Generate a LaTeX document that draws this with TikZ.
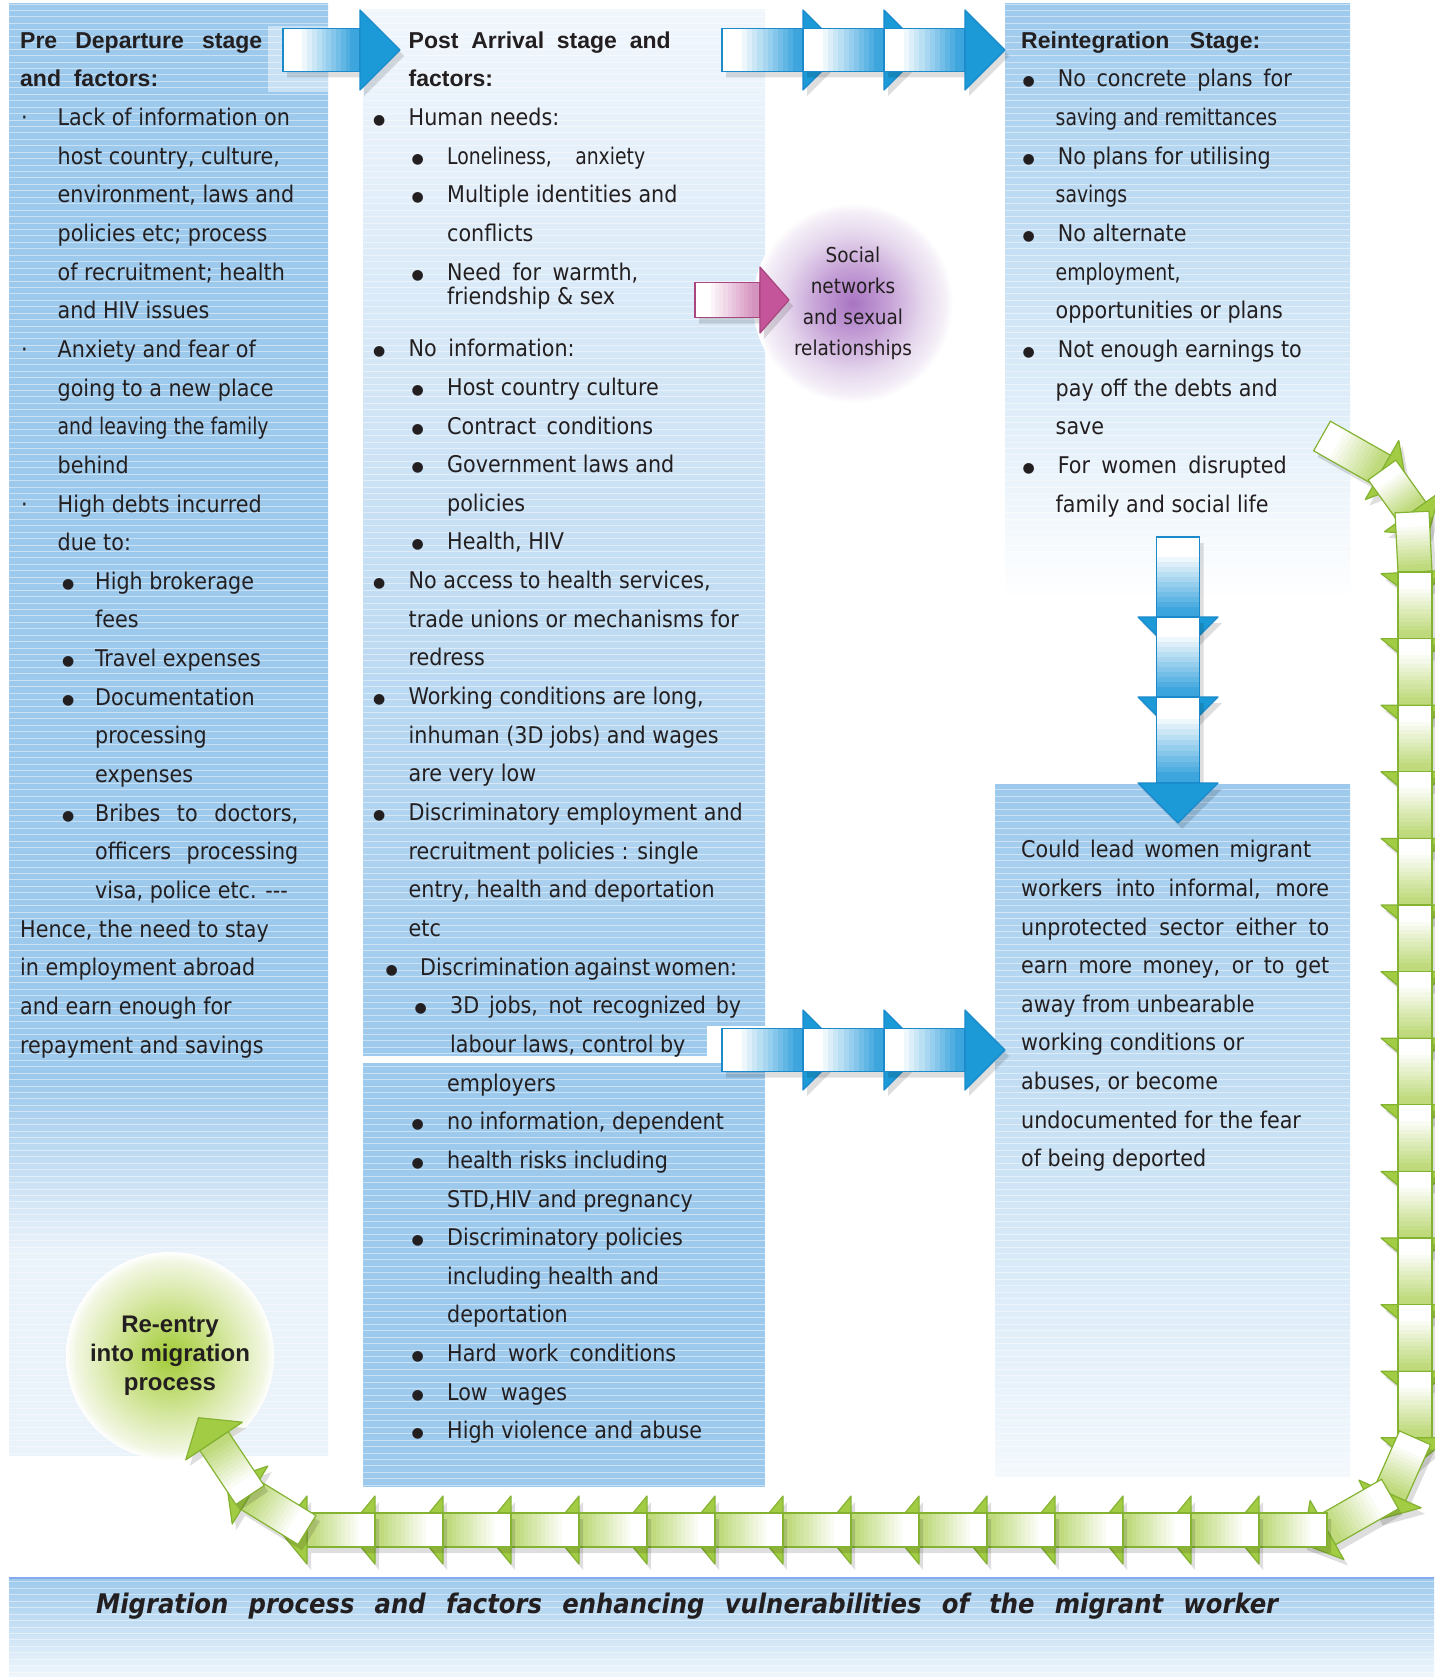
\documentclass[tikz,border=0pt]{standalone}
\usepackage{fontspec}
\setmainfont{DejaVu Sans Condensed}
\newfontfamily\headfont{Liberation Sans}
\newfontfamily\narrowfont{DejaVu Sans Condensed}[FakeStretch=0.91]
\newfontfamily\symfont{DejaVu Sans}

\definecolor{colblue}{HTML}{9DC9EC}
\definecolor{colpale}{HTML}{EAF2FA}
\definecolor{colmidtop}{HTML}{F1F6FC}
\definecolor{textc}{HTML}{231F20}
\definecolor{bluebody}{HTML}{3DA5DD}
\definecolor{bluehead}{HTML}{1B9AD7}
\definecolor{blueedge}{HTML}{1A8ACB}
\definecolor{greenbody}{HTML}{BFDA7C}
\definecolor{greenhead}{HTML}{A2CC44}
\definecolor{greenedge}{HTML}{84B332}
\definecolor{pinkbody}{HTML}{D592BE}
\definecolor{pinkhead}{HTML}{C4559B}
\definecolor{pinkedge}{HTML}{A9457F}
\definecolor{purpc}{HTML}{A874C2}
\definecolor{purpm}{HTML}{C6A2D7}
\definecolor{purpl}{HTML}{E4D5EC}
\definecolor{purpe}{HTML}{F5F0F8}
\definecolor{grnc}{HTML}{A2CB37}
\definecolor{grnm}{HTML}{C2DD78}
\definecolor{grnl}{HTML}{DFECB6}
\definecolor{grne}{HTML}{F2F7E4}

\pgfdeclareverticalshading{leftfade}{100bp}{color(0bp)=(colpale); color(32bp)=(colpale); color(38bp)=(colblue); color(100bp)=(colblue)}
\pgfdeclareradialshading{socialglow}{\pgfpoint{0bp}{0bp}}{color(0bp)=(purpc); color(9bp)=(purpm); color(17bp)=(purpl); color(23bp)=(purpe); color(25bp)=(white); color(50bp)=(white)}
\pgfdeclareradialshading{reentryglow}{\pgfpoint{0bp}{0bp}}{color(0bp)=(grnc); color(9bp)=(grnm); color(17bp)=(grnl); color(23bp)=(grne); color(25bp)=(white); color(50bp)=(white)}

\tikzset{
  coltext/.style={align=left, inner sep=0pt, text=textc, font=\fontsize{23}{38.65}\selectfont},
  stripe/.style={white, opacity=.45, line width=.8pt},
  seg shadow/.style={black, opacity=.13},
  seg blue/.code={\def\bw{21.5}\def\hw{40}\def\hl{40}\def\segbody{bluebody}\def\seghead{bluehead}\def\segedge{blueedge}},
  seg green/.code={\def\bw{17}\def\hw{34}\def\hl{28}\def\segbody{greenbody}\def\seghead{greenhead}\def\segedge{greenedge}},
  seg pink/.code={\def\bw{17.5}\def\hw{33}\def\hl{29}\def\segbody{pinkbody}\def\seghead{pinkhead}\def\segedge{pinkedge}}
}

\newcommand\jl[2]{\makebox[#1pt][s]{#2}}
\newcommand\bdot{\raisebox{1pt}{\symfont\fontsize{14}{14}\selectfont ●}}
\newcommand\bu[2]{\hspace*{#1pt}\makebox[#2pt][l]{\bdot}}
\newcommand\ind[1]{\hspace*{#1pt}}
\newcommand\dotbu{\hspace*{1pt}\makebox[36.5pt][l]{\textperiodcentered}}

\makeatletter
\newcommand\chainseg[2]{%
  \pgfpointdiff{\pgfpointanchor{#1}{center}}{\pgfpointanchor{#2}{center}}%
  \edef\segdx{\strip@pt\pgf@x}%
  \edef\segdy{\strip@pt\pgf@y}%
  \pgfmathsetmacro\segang{atan2(\segdy,\segdx)}%
  \pgfmathsetmacro\seglen{veclen(\segdx,\segdy)}%
  \begin{scope}[shift={(#1)},xshift=4pt,yshift=-6pt,rotate=\segang]
    \fill[seg shadow] (0,-\bw) -- (\seglen,-\bw) -- (\seglen,-\hw) -- (\seglen+\hl,0)
      -- (\seglen,\hw) -- (\seglen,\bw) -- (0,\bw) -- cycle;
  \end{scope}
  \begin{scope}[shift={(#1)},rotate=\segang]
    \foreach \k in {0,...,15}{%
      \pgfmathsetmacro\ua{\seglen*\k/16}%
      \pgfmathsetmacro\ub{\seglen*(\k+1)/16+0.7}%
      \pgfmathtruncatemacro\pc{max(0,min(100,(\k-3)*9))}%
      \fill[\segbody!\pc!white] (\ua,-\bw) rectangle (\ub,\bw);
    }
    \draw[\segedge,line width=1.2pt] (0,-\bw) rectangle (\seglen,\bw);
    \filldraw[fill=\seghead,draw=\segedge,line width=1.2pt,line join=round]
      (\seglen,-\hw) -- (\seglen+\hl,0) -- (\seglen,\hw) -- cycle;
  \end{scope}}
\makeatother

\begin{document}
\begin{tikzpicture}[x=1pt,y=-1pt]
  \useasboundingbox (0,0) rectangle (1434,1677);
  \fill[white] (0,0) rectangle (1434,1677);

  % columns and caption band
  \shade[shading=leftfade] (9,4) rectangle (328,1455);
  \shade[top color=colmidtop, bottom color=colblue] (363,10) rectangle (765,1055);
  \fill[colblue] (363,1063) rectangle (765,1487);
  \shade[top color=colblue, middle color=colblue!55!white, bottom color=white] (1005,4) rectangle (1350,600);
  \shade[top color=colblue, bottom color=colblue!12!white] (995,784) rectangle (1350,1476);
  \shade[top color=colblue, bottom color=colblue!15!white] (9,1577) rectangle (1434,1677);

  \begin{scope}
    \clip (9,4) rectangle (328,1455) (363,10) rectangle (765,1055) (363,1063) rectangle (765,1487)
          (1005,4) rectangle (1350,600) (995,784) rectangle (1350,1476) (9,1577) rectangle (1434,1677);
    \foreach \y in {4,10.44,...,1677}
      \draw[stripe] (0,\y) -- (1434,\y);
  \end{scope}
  \draw[colblue!85!blue, line width=2pt] (9,1578) -- (1434,1578);

  \fill[white, opacity=.45] (268,26) rectangle (328,92);
  \fill[white] (707,1026) rectangle (770,1063);

  % text of the stages
  \node[coltext, anchor=north west] (predep) at (20,28) {%
    {\headfont\bfseries\rule{0pt}{20pt}\jl{242}{Pre Departure stage}}\\
    {\headfont\bfseries\jl{138}{and factors:}}\\
    \dotbu Lack of information on\\
    \ind{37.5}host country, culture,\\
    \ind{37.5}environment, laws and\\
    \ind{37.5}policies etc; process\\
    \ind{37.5}of recruitment; health\\
    \ind{37.5}and HIV issues\\
    \dotbu Anxiety and fear of\\
    \ind{37.5}going to a new place\\
    \ind{37.5}{\narrowfont and leaving the family}\\
    \ind{37.5}behind\\
    \dotbu High debts incurred\\
    \ind{37.5}due to:\\
    \bu{42}{33}High brokerage\\
    \ind{75}fees\\
    \bu{42}{33}Travel expenses\\
    \bu{42}{33}Documentation\\
    \ind{75}processing\\
    \ind{75}expenses\\
    \bu{42}{33}\jl{203}{Bribes to doctors,}\\
    \ind{75}\jl{203}{officers processing}\\
    \ind{75}visa, police etc. {-}{-}{-}\\
    Hence, the need to stay\\
    in employment abroad\\
    and earn enough for\\
    repayment and savings};

  \node[coltext, anchor=north west] (postarr) at (372,28) {%
    {\headfont\bfseries\rule{0pt}{20pt}\ind{36.5}\jl{262}{Post Arrival stage and}}\\
    {\headfont\bfseries\ind{36.5}factors:}\\
    \bu{1}{35.5}Human needs:\\
    \bu{39.5}{35.5}{\narrowfont\jl{198}{Loneliness, anxiety}}\\
    \bu{39.5}{35.5}Multiple identities and\\
    \ind{75}conflicts\\
    \bu{39.5}{35.5}\jl{191}{Need for warmth,}\\[-14.65pt]
    \ind{75}friendship \& sex\\[13.95pt]
    \bu{1}{35.5}\jl{166}{No information:}\\
    \bu{39.5}{35.5}Host country culture\\
    \bu{39.5}{35.5}\jl{206}{Contract conditions}\\
    \bu{39.5}{35.5}Government laws and\\
    \ind{75}policies\\
    \bu{39.5}{35.5}Health, HIV\\
    \bu{1}{35.5}No access to health services,\\
    \ind{36.5}trade unions or mechanisms for\\
    \ind{36.5}redress\\
    \bu{1}{35.5}Working conditions are long,\\
    \ind{36.5}inhuman (3D jobs) and wages\\
    \ind{36.5}are very low\\
    \bu{1}{35.5}Discriminatory employment and\\
    \ind{36.5}recruitment policies : single\\
    \ind{36.5}entry, health and deportation\\
    \ind{36.5}etc\\
    \bu{13.5}{34.5}\jl{314}{Discrimination against women:}\\
    \bu{42.5}{35.5}\jl{291}{3D jobs, not recognized by}\\
    \ind{78}labour laws, control by\\
    \ind{75}employers\\
    \bu{39.5}{35.5}no information, dependent\\
    \bu{39.5}{35.5}health risks including\\
    \ind{75}STD,HIV and pregnancy\\
    \bu{39.5}{35.5}Discriminatory policies\\
    \ind{75}including health and\\
    \ind{75}deportation\\
    \bu{39.5}{35.5}\jl{229}{Hard work conditions}\\
    \bu{39.5}{35.5}\jl{120}{Low wages}\\
    \bu{39.5}{35.5}High violence and abuse};

  \node[coltext, anchor=north west] (reint) at (1021,28) {%
    {\headfont\bfseries\rule{0pt}{20pt}\jl{239}{Reintegration Stage:}}\\
    \bu{1.5}{35.1}\jl{234}{No concrete plans for}\\
    \ind{34.5}{\narrowfont saving and remittances}\\
    \bu{1.5}{35.1}No plans for utilising\\
    \ind{34.5}{\narrowfont savings}\\
    \bu{1.5}{35.1}No alternate\\
    \ind{34.5}{\narrowfont employment,}\\
    \ind{34.5}opportunities or plans\\
    \bu{1.5}{35.1}Not enough earnings to\\
    \ind{34.5}pay off the debts and\\
    \ind{34.5}save\\
    \bu{1.5}{35.1}\jl{229}{For women disrupted}\\
    \ind{34.5}family and social life};

  \node[coltext, anchor=north west] (outcome) at (1021,837.5) {%
    \rule{0pt}{20pt}\jl{290}{Could lead women migrant}\\
    \jl{308}{workers into informal, more}\\
    \jl{308}{unprotected sector either to}\\
    \jl{308}{earn more money, or to get}\\
    away from unbearable\\
    working conditions or\\
    abuses, or become\\
    undocumented for the fear\\
    of being deported};

  \node[anchor=base west, inner sep=0pt, text=textc,
        font=\bfseries\itshape\fontsize{27}{30}\selectfont] (caption) at (96,1613)
    {\jl{1182}{Migration process and factors enhancing vulnerabilities of the migrant worker}};

  % glowing circles
  \node[circle, minimum size=200pt, inner sep=0pt, shade, shading=socialglow, align=center,
        text=textc, font=\fontsize{20.5}{31}\selectfont] (social) at (853,303)
    {Social\\networks\\and sexual\\relationships};
  \node[circle, minimum size=208pt, inner sep=0pt, shade, shading=reentryglow, align=center,
        text=textc, font=\headfont\bfseries\fontsize{24}{29}\selectfont] (reentry) at (170,1356)
    {Re-entry\\into migration\\process};

  % blue arrows
  \begin{scope}[seg blue]
    \coordinate (dep1) at (283,50);
    \coordinate (dep2) at (360,50);
    \chainseg{dep1}{dep2}
    \foreach \x [count=\i] in {722,803,884,965} {
      \coordinate (tc\i) at (\x,50);
      \coordinate (mc\i) at (\x,1050);
    }
    \foreach \y [count=\i] in {537,617,697,783}
      \coordinate (dc\i) at (1178,\y);
    \foreach \i [count=\j from 2] in {1,2,3} {
      \chainseg{tc\i}{tc\j}
      \chainseg{mc\i}{mc\j}
      \chainseg{dc\i}{dc\j}
    }
  \end{scope}

  % pink arrow to the social networks
  \begin{scope}[seg pink]
    \coordinate (pk1) at (695,300);
    \coordinate (pk2) at (760,300);
    \chainseg{pk1}{pk2}
  \end{scope}

  % green loop back to re-entry
  \begin{scope}[seg green]
    \foreach \x/\y [count=\i] in {1322/436,1382/470,1412/512}
      \coordinate (g\i) at (\x,\y);
    \foreach \k in {0,...,13} {
      \pgfmathtruncatemacro\i{\k+4}
      \coordinate (g\i) at (1415,572+66.6*\k);
    }
    \coordinate (g18) at (1390,1494);
    \coordinate (g19) at (1327,1530);
    \foreach \k in {1,...,15} {
      \pgfmathtruncatemacro\i{\k+19}
      \coordinate (g\i) at (1327-68*\k,1530);
    }
    \coordinate (g35) at (250,1495);
    \coordinate (g36) at (214,1441);
    \foreach \i [count=\j from 2] in {1,...,35} {
      \chainseg{g\i}{g\j}
    }
  \end{scope}
\end{tikzpicture}
\end{document}
